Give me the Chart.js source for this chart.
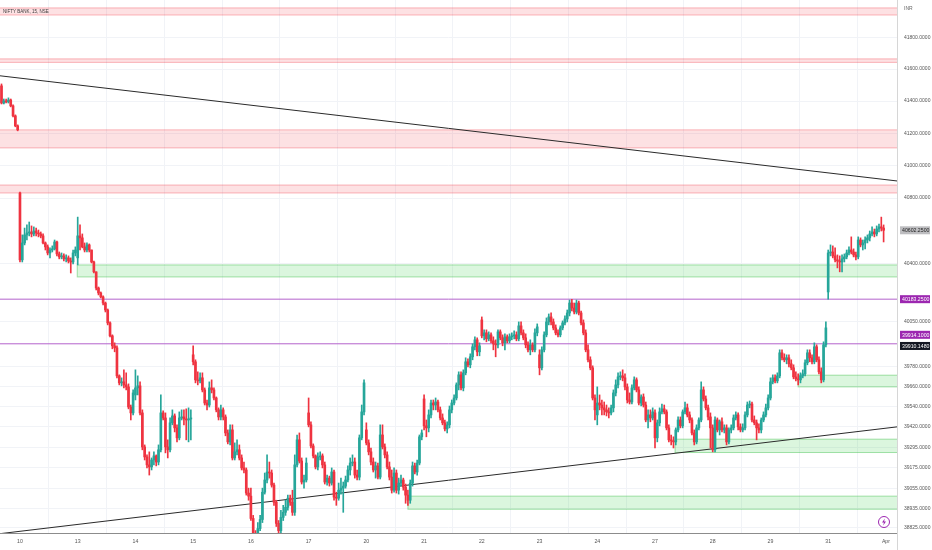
<!DOCTYPE html>
<html><head><meta charset="utf-8">
<script src="https://cdn.jsdelivr.net/npm/chart.js@4.4.0/dist/chart.umd.min.js"></script>
<style>
html,body{margin:0;padding:0;background:#fff;}
#wrap{position:relative;width:932px;height:550px;overflow:hidden;}
#title{position:absolute;left:3px;top:8px;font:6px "Liberation Sans",Arial,sans-serif;color:#3a3a3a;line-height:7px;white-space:nowrap;transform:scaleX(0.75);transform-origin:0 0;}
#inr{position:absolute;left:904px;top:5px;font:5px "Liberation Sans",Arial,sans-serif;color:#666;line-height:7px;}
</style></head>
<body><div id="wrap"><canvas id="c" width="932" height="550"></canvas><div id="title">NIFTY BANK, 15, NSE</div><div id="inr">INR</div></div>
<script>
// ---- session structure & axis labels ----
const sessionCandles = [8,25,25,25,25,25,25,25,25,25,25,25,25,25,25,25];
const dayLabels = ['10','13','14','15','16','17','20','21','22','23','24','27','28','29','31','Apr'];
const yTicks = [41800,41600,41400,41200,41000,40800,40400,40050,39780,39660,39540,39420,39295,39175,39055,38935,38825];

// ---- candles (15 min) ----
const opens = [
41495,41388,41401,41395,41407,41370,41308,41246,
40831,40422,40525,40574,40586,40592,40580,40598,40586,40580,40568,40525,40501,40464,40482,40489,40531,40458,40440,40446,40428,40434,40415,40409,40464,
40434,40568,40556,40501,40482,40513,40482,40409,40349,40251,40221,40197,40160,40118,40040,39962,39902,39890,39722,39680,39686,39668,39656,39536,39501,
39608,39650,39662,39501,39299,39240,39193,39181,39222,39246,39210,39282,39501,39471,39299,39282,39442,39483,39412,39353,39471,39477,39465,39459,39465,
39848,39806,39698,39692,39710,39638,39560,39548,39650,39638,39590,39519,39477,39519,39477,39382,39329,39400,39234,39270,39282,39234,39175,39163,39027,
39009,38878,38789,38748,38819,38872,39032,39104,39151,39145,39074,38973,38849,38807,38884,38914,38943,38997,38973,38914,39193,39341,39216,39092,39104,
39501,39430,39305,39246,39181,39240,39246,39193,39092,39115,39086,39151,39003,38997,39044,39056,39068,39104,39163,39204,39210,39133,39121,39353,39507,
39400,39323,39270,39210,39163,39187,39121,39370,39299,39252,39181,39121,39044,39145,39044,39086,39104,39062,39015,38985,39086,39187,39151,39204,39359,
39584,39424,39412,39489,39560,39548,39566,39519,39471,39442,39406,39430,39519,39560,39590,39668,39728,39650,39740,39806,39788,39836,39896,39938,39866,
40058,39962,39980,39944,39968,39932,39914,39908,39986,39950,39920,39956,39932,39956,39962,39968,39944,40022,39980,39950,39908,39878,39908,39878,39980,
39848,39770,39878,39968,40046,40076,40046,40010,39980,39968,40010,40040,40064,40100,40160,40130,40106,40160,40100,40040,39980,39878,39818,39770,39590,
39489,39560,39548,39531,39519,39507,39501,39531,39620,39668,39716,39722,39710,39656,39578,39566,39650,39698,39638,39560,39596,39548,39459,39489,39471,
39501,39353,39442,39507,39525,39507,39412,39341,39335,39329,39400,39459,39424,39507,39531,39489,39459,39382,39329,39412,39459,39638,39584,39531,39477,
39412,39282,39459,39400,39448,39400,39412,39329,39400,39412,39471,39489,39418,39400,39412,39489,39548,39554,39459,39442,39412,39400,39459,39489,39531,
39590,39686,39710,39692,39722,39860,39830,39818,39830,39794,39770,39716,39704,39698,39722,39734,39800,39860,39830,39806,39896,39818,39746,39698,39908,
40227,40464,40470,40446,40422,40415,40409,40428,40440,40464,40482,40470,40452,40440,40543,40513,40525,40543,40556,40580,40592,40580,40610,40623,40616
];
const highs = [
41507,41413,41413,41420,41413,41376,41314,41252,
40837,40574,40616,40635,40653,40629,40623,40616,40604,40592,40580,40531,40513,40495,40507,40543,40537,40470,40464,40458,40452,40446,40434,40482,40501,
40683,40635,40580,40525,40525,40519,40482,40415,40349,40257,40227,40203,40166,40124,40046,39968,39920,39902,39728,39710,39758,39740,39674,39548,39638,
39758,39722,39686,39519,39311,39252,39270,39234,39270,39252,39311,39608,39513,39501,39341,39471,39519,39495,39430,39507,39519,39519,39525,39531,39519,
39902,39818,39746,39740,39740,39650,39578,39686,39698,39650,39596,39531,39548,39531,39489,39400,39430,39430,39323,39341,39311,39252,39210,39175,39056,
39056,38896,38807,38854,38896,39056,39145,39252,39210,39163,39086,38985,38866,38926,38955,38985,39015,39015,39044,39252,39370,39382,39234,39133,39234,
39590,39448,39317,39252,39264,39270,39258,39210,39133,39127,39175,39163,39032,39086,39115,39092,39127,39187,39234,39252,39234,39163,39370,39548,39698,
39442,39341,39293,39234,39210,39204,39430,39430,39317,39270,39210,39163,39175,39163,39115,39133,39115,39080,39044,39104,39210,39204,39222,39370,39400,
39608,39459,39519,39578,39578,39590,39578,39536,39495,39459,39448,39542,39578,39608,39680,39746,39746,39758,39830,39824,39854,39914,39956,39950,39920,
40076,39998,39998,39986,39980,39956,39938,39998,39998,39968,39974,39968,39974,39980,39992,39986,40046,40046,39998,39974,39926,39938,39920,40004,40034,
39878,39896,39986,40070,40094,40100,40064,40028,39998,40022,40052,40082,40118,40178,40183,40160,40178,40172,40112,40058,39998,39908,39836,39782,39608,
39656,39608,39578,39566,39548,39531,39548,39638,39698,39740,39746,39758,39734,39674,39620,39668,39716,39710,39656,39608,39614,39566,39519,39519,39531,
39519,39459,39531,39554,39548,39519,39430,39370,39359,39412,39477,39477,39519,39566,39554,39507,39471,39400,39430,39471,39686,39656,39602,39548,39501,
39430,39477,39471,39459,39471,39430,39430,39412,39430,39489,39507,39501,39436,39436,39507,39566,39572,39566,39483,39459,39436,39471,39507,39554,39608,
39710,39728,39728,39740,39878,39878,39854,39848,39848,39818,39788,39746,39734,39740,39758,39818,39878,39878,39848,39920,39908,39836,39770,39926,40046,
40482,40513,40507,40495,40452,40446,40452,40458,40482,40501,40562,40489,40470,40562,40556,40543,40562,40574,40598,40623,40610,40629,40641,40683,40635
];
const lows = [
41382,41382,41388,41388,41364,41302,41240,41215,
40409,40409,40513,40543,40568,40562,40568,40568,40562,40556,40519,40482,40452,40434,40470,40482,40446,40428,40428,40415,40409,40403,40342,40397,40446,
40391,40482,40495,40470,40470,40470,40403,40342,40239,40209,40191,40148,40106,40028,39956,39884,39866,39710,39668,39662,39650,39638,39525,39459,39489,
39578,39608,39489,39282,39222,39175,39133,39163,39193,39187,39193,39270,39459,39264,39234,39270,39430,39388,39329,39341,39459,39430,39341,39329,39341,
39788,39680,39668,39680,39626,39548,39519,39536,39620,39578,39507,39459,39459,39459,39365,39317,39311,39222,39222,39252,39222,39163,39145,39015,38985,
38866,38718,38689,38718,38807,38854,39021,39086,39115,39062,38955,38831,38748,38789,38866,38896,38926,38955,38896,38896,39181,39204,39080,39056,39092,
39418,39293,39234,39169,39163,39222,39175,39080,39074,39068,39074,38985,38955,38985,39021,38914,39056,39092,39133,39187,39115,39104,39104,39341,39489,
39311,39252,39193,39151,39115,39110,39110,39287,39234,39169,39104,39027,39032,39027,39021,39068,39044,38967,38955,38967,39068,39139,39133,39193,39341,
39400,39359,39388,39471,39519,39519,39507,39459,39430,39394,39382,39412,39501,39548,39578,39638,39638,39632,39728,39776,39770,39818,39878,39842,39842,
39950,39938,39926,39932,39920,39878,39836,39890,39938,39902,39878,39920,39920,39938,39944,39932,39932,39968,39938,39890,39866,39848,39866,39866,39962,
39728,39758,39866,39956,40028,40028,39998,39968,39956,39956,39998,40028,40046,40082,40112,40094,40094,40088,40028,39968,39866,39806,39758,39578,39459,
39430,39519,39489,39489,39483,39471,39489,39507,39602,39650,39698,39692,39638,39560,39554,39554,39638,39626,39548,39542,39536,39448,39412,39448,39459,
39293,39329,39424,39495,39495,39400,39329,39311,39293,39311,39388,39412,39412,39495,39477,39442,39370,39311,39317,39400,39448,39572,39519,39459,39293,
39270,39270,39388,39370,39388,39382,39311,39317,39382,39400,39459,39400,39388,39388,39400,39477,39531,39448,39430,39341,39382,39382,39448,39477,39519,
39578,39674,39680,39680,39710,39818,39806,39794,39776,39758,39704,39692,39668,39680,39710,39722,39788,39806,39794,39794,39806,39734,39680,39686,39896,
40183,40446,40434,40409,40373,40349,40349,40409,40428,40452,40458,40440,40422,40428,40501,40482,40489,40525,40537,40568,40562,40568,40592,40598,40531
];
const closes = [
41388,41401,41395,41407,41370,41308,41246,41221,
40422,40525,40574,40586,40592,40580,40598,40586,40580,40568,40525,40501,40464,40482,40489,40531,40458,40440,40446,40428,40434,40415,40409,40464,40482,
40568,40556,40501,40482,40513,40482,40409,40349,40251,40221,40197,40160,40118,40040,39962,39902,39890,39722,39680,39686,39668,39656,39536,39501,39620,
39650,39662,39501,39299,39240,39193,39181,39222,39246,39210,39282,39501,39471,39299,39282,39442,39483,39412,39353,39471,39477,39465,39459,39465,39471,
39806,39698,39692,39710,39638,39560,39548,39650,39638,39590,39519,39477,39519,39477,39382,39329,39400,39234,39270,39282,39234,39175,39163,39027,39009,
38878,38789,38748,38819,38872,39032,39104,39151,39145,39074,38973,38849,38807,38884,38914,38943,38997,38973,38914,39193,39341,39216,39092,39104,39204,
39430,39305,39246,39181,39240,39246,39193,39092,39115,39086,39151,39003,38997,39044,39056,39068,39104,39163,39204,39210,39133,39121,39353,39507,39680,
39323,39270,39210,39163,39187,39121,39370,39299,39252,39181,39121,39044,39145,39044,39086,39104,39062,39015,38985,39086,39187,39151,39204,39359,39382,
39424,39412,39489,39560,39548,39566,39519,39471,39442,39406,39430,39519,39560,39590,39668,39728,39650,39740,39806,39788,39836,39896,39938,39866,39902,
39962,39980,39944,39968,39932,39914,39908,39986,39950,39920,39956,39932,39956,39962,39968,39944,40022,39980,39950,39908,39878,39908,39878,39980,40016,
39770,39878,39968,40046,40076,40046,40010,39980,39968,40010,40040,40064,40100,40160,40130,40106,40160,40100,40040,39980,39878,39818,39770,39590,39519,
39560,39548,39531,39519,39507,39501,39531,39620,39668,39716,39722,39710,39656,39578,39566,39650,39698,39638,39560,39596,39548,39459,39489,39471,39507,
39353,39442,39507,39525,39507,39412,39341,39335,39329,39400,39459,39424,39507,39531,39489,39459,39382,39329,39412,39459,39638,39584,39531,39477,39412,
39282,39459,39400,39448,39400,39412,39329,39400,39412,39471,39489,39418,39400,39412,39489,39548,39554,39459,39442,39412,39400,39459,39489,39531,39590,
39686,39710,39692,39722,39860,39830,39818,39830,39794,39770,39716,39704,39698,39722,39734,39800,39860,39830,39806,39896,39818,39746,39698,39908,40010,
40464,40470,40446,40422,40415,40409,40428,40440,40464,40482,40470,40452,40440,40543,40513,40525,40543,40556,40580,40592,40580,40610,40623,40616,40602.25
];

// ---- drawings (price levels / zones / trend lines) ----
const supplyZones = [[41940,41985],[41642,41664],[41109,41221],[40831,40880]];      // [low, high], full width
const demandZones = [[40318,40391,32.8],[39656,39726,345],[39266,39345,291.7],[38932,39009,176]]; // [low, high, start candle]
const levelLines = [40183.25, 39914.1];
const indicatorValue = 39910.148;
const trendLines = [[[-0.65,41558],[387.8,40905]], [[-0.65,38789],[387.8,39418]]];

// ---- derived ----
const tickIdx = []; { let s = 0; sessionCandles.forEach((n,i)=>{ if(i>0) tickIdx.push(s); s+=n; }); tickIdx.push(s); }
const UP = '#26a69a', DOWN = '#ef3340';
const colorOf = i => closes[i] >= opens[i] ? UP : DOWN;
const wickData = highs.map((h,i)=>({x:i, y:[lows[i], h]}));
const bodyData = opens.map((o,i)=>({x:i, y:[o, closes[i]]}));
const FONT = '"Liberation Sans", Arial, sans-serif';

const overlay = {
  id:'overlay',
  beforeDatasetsDraw(chart){
    const {ctx, chartArea:a, scales:{x,y}} = chart;
    ctx.save();
    ctx.beginPath(); ctx.rect(a.left,a.top,a.right-a.left,a.bottom-a.top); ctx.clip();
    supplyZones.forEach(([lo,hi])=>{
      const y1=y.getPixelForValue(hi), y2=y.getPixelForValue(lo);
      ctx.fillStyle='rgba(242,54,69,0.15)'; ctx.fillRect(a.left,y1,a.right-a.left,y2-y1);
      ctx.strokeStyle='rgba(242,54,69,0.35)'; ctx.lineWidth=1; ctx.strokeRect(a.left-1,y1,a.right-a.left+2,y2-y1);
    });
    demandZones.forEach(([lo,hi,s])=>{
      const x1=x.getPixelForValue(s), y1=y.getPixelForValue(hi), y2=y.getPixelForValue(lo);
      ctx.fillStyle='rgba(76,210,90,0.2)'; ctx.fillRect(x1,y1,a.right-x1,y2-y1);
      ctx.strokeStyle='rgba(60,190,70,0.45)'; ctx.lineWidth=1; ctx.strokeRect(x1,y1,a.right-x1+2,y2-y1);
    });
    levelLines.forEach(v=>{
      const py=y.getPixelForValue(v);
      ctx.strokeStyle='#b463cc'; ctx.lineWidth=1;
      ctx.beginPath(); ctx.moveTo(a.left,py); ctx.lineTo(a.right,py); ctx.stroke();
    });
    trendLines.forEach(([p,q])=>{
      ctx.strokeStyle='#2a2a2a'; ctx.lineWidth=1;
      ctx.beginPath(); ctx.moveTo(x.getPixelForValue(p[0]),y.getPixelForValue(p[1]));
      ctx.lineTo(x.getPixelForValue(q[0]),y.getPixelForValue(q[1])); ctx.stroke();
    });
    ctx.restore();
  },
  afterDraw(chart){
    const {ctx, chartArea:a, scales:{y}} = chart;
    ctx.save();
    ctx.strokeStyle='#d6d6d6'; ctx.lineWidth=1;
    ctx.beginPath(); ctx.moveTo(a.right+0.5,a.bottom); ctx.lineTo(a.right+0.5,550); ctx.stroke();
    const tag=(py,text,bg,fg)=>{
      ctx.fillStyle=bg; ctx.fillRect(a.right+3,py-4,30,8);
      ctx.fillStyle=fg; ctx.font='5.2px '+FONT; ctx.textAlign='left'; ctx.textBaseline='middle';
      ctx.fillText(text,a.right+5,py+0.3);
    };
    const last = closes[closes.length-1];
    tag(y.getPixelForValue(last), last.toFixed(4), '#bdbdc0', '#222');
    tag(y.getPixelForValue(levelLines[0]), levelLines[0].toFixed(4), '#9c27b0', '#fff');
    tag(y.getPixelForValue(levelLines[1])-9, levelLines[1].toFixed(4), '#9c27b0', '#fff');
    tag(y.getPixelForValue(indicatorValue)+1.5, indicatorValue.toFixed(4), '#131722', '#fff');
    // lightning badge
    const cx=a.right-13, cy=a.bottom-11;
    ctx.strokeStyle='#9c27b0'; ctx.lineWidth=1;
    ctx.beginPath(); ctx.arc(cx,cy,5.5,0,Math.PI*2); ctx.stroke();
    ctx.fillStyle='#9c27b0';
    ctx.beginPath(); ctx.moveTo(cx+0.8,cy-3.5); ctx.lineTo(cx-2,cy+0.6); ctx.lineTo(cx-0.1,cy+0.6);
    ctx.lineTo(cx-0.8,cy+3.5); ctx.lineTo(cx+2,cy-0.6); ctx.lineTo(cx+0.1,cy-0.6); ctx.closePath(); ctx.fill();
    ctx.restore();
  }
};

new Chart(document.getElementById('c'), {
  type:'bar',
  data:{ datasets:[
    { label:'wick', data:wickData, backgroundColor:c=>colorOf(c.dataIndex), barThickness:1, grouped:false, order:2 },
    { label:'body', data:bodyData, backgroundColor:c=>colorOf(c.dataIndex), barThickness:2, minBarLength:1, grouped:false, order:1 }
  ]},
  options:{
    responsive:false, animation:false, events:[],
    layout:{padding:0},
    plugins:{legend:{display:false}, tooltip:{enabled:false}},
    scales:{
      x:{ type:'linear', min:-0.65, max:387.8, offset:false,
        grid:{color:'#f1f3f7', drawTicks:false},
        border:{color:'#8c8c8c'},
        ticks:{autoSkip:false, maxRotation:0, padding:5, color:'#555', font:{size:5.2, family:FONT},
          callback:(v,i)=>dayLabels[i]},
        afterBuildTicks:s=>{ s.ticks = tickIdx.map(v=>({value:v})); },
        afterFit:s=>{ s.height=17; s.paddingLeft=0; s.paddingRight=0; }
      },
      y:{ type:'logarithmic', position:'right', min:38793, max:42035,
        grid:{color:'#f1f3f7', drawTicks:false},
        border:{color:'#d6d6d6'},
        ticks:{autoSkip:false, padding:7, color:'#555', font:{size:5, family:FONT},
          callback:v=>Number(v).toFixed(4)},
        afterBuildTicks:s=>{ s.ticks = yTicks.map(v=>({value:v})); },
        afterFit:s=>{ s.width=35; s.paddingTop=0; s.paddingBottom=0; }
      }
    }
  },
  plugins:[overlay]
});
</script>
</body></html>
